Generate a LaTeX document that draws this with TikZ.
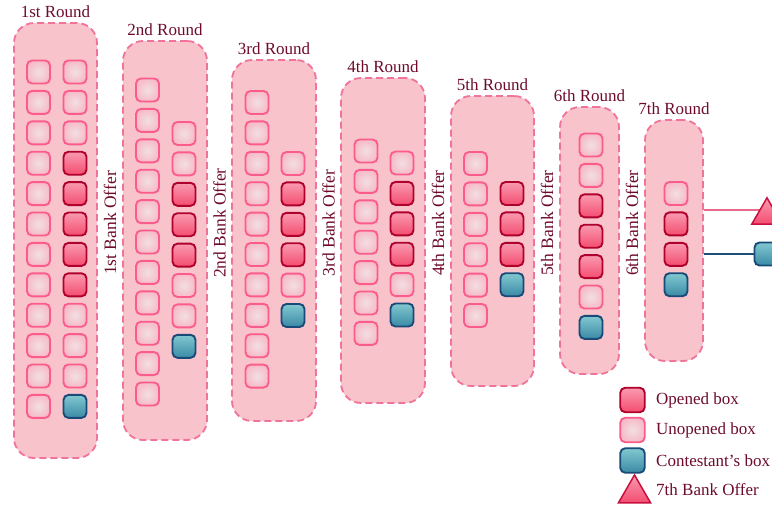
\documentclass[tikz,border=0pt]{standalone}
\usepackage{fontspec}
\setmainfont{Liberation Serif}
\usetikzlibrary{shapes.geometric}
\pgfdeclarelayer{bg}
\pgfsetlayers{bg,main}
\definecolor{panelfill}{HTML}{F8C3CB}
\definecolor{paneldraw}{HTML}{F0739A}
\definecolor{unopdraw}{HTML}{FB5C8C}
\definecolor{unopin}{HTML}{F2DFE3}
\definecolor{unopout}{HTML}{F6BCC8}
\definecolor{opndraw}{HTML}{B0002C}
\definecolor{opntop}{HTML}{F99AB0}
\definecolor{opnbot}{HTML}{F44D70}
\definecolor{contdraw}{HTML}{1A4A78}
\definecolor{conttop}{HTML}{82C8D0}
\definecolor{contbot}{HTML}{3A8AA6}
\definecolor{txt}{HTML}{6E0B2A}
\definecolor{pinkline}{HTML}{E86A88}
\definecolor{blueline}{HTML}{1D4F7A}
\definecolor{tridraw}{HTML}{C8103F}
\begin{document}
\begin{tikzpicture}[x=1pt,y=-1pt,
  panel/.style={draw=paneldraw,fill=panelfill,line width=1.8pt,dash pattern=on 7pt off 4pt,rounded corners=20pt,inner sep=0pt},
  boxbase/.style={rounded corners=5pt,minimum size=23pt,inner sep=0pt,line width=1.9pt},
  unop/.style={boxbase,draw=unopdraw,inner color=unopin,outer color=unopout},
  opn/.style={boxbase,draw=opndraw,top color=opntop,bottom color=opnbot},
  cont/.style={boxbase,draw=contdraw,top color=conttop,bottom color=contbot},
  title/.style={text=txt,font=\fontsize{17pt}{20pt}\selectfont,anchor=base,inner sep=0pt},
  offer/.style={text=txt,font=\fontsize{17.5pt}{20pt}\selectfont,rotate=90,inner sep=0pt},
  legtext/.style={text=txt,font=\fontsize{17pt}{20pt}\selectfont,anchor=west,inner sep=0pt},
  tri/.style={regular polygon,regular polygon sides=3,inner sep=0pt,draw=tridraw,line width=1.5pt,top color=opntop,bottom color=opnbot}
]
\useasboundingbox (0,0) rectangle (772,506);

% panels
\node[panel,minimum width=83pt,minimum height=435pt] (p1) at (55.5,240.5) {};
\node[panel,minimum width=84pt,minimum height=399pt] (p2) at (165,240.5) {};
\node[panel,minimum width=84pt,minimum height=361pt] (p3) at (274,240.5) {};
\node[panel,minimum width=84pt,minimum height=325pt] (p4) at (383,240.5) {};
\node[panel,minimum width=83pt,minimum height=290pt] (p5) at (492.5,241) {};
\node[panel,minimum width=59pt,minimum height=267pt] (p6) at (589.5,240.5) {};
\node[panel,minimum width=58pt,minimum height=241pt] (p7) at (674,240.5) {};

% titles
\node[title] (t1) at ([yshift=5pt]p1.north) {1st Round};
\node[title] (t2) at ([yshift=5pt]p2.north) {2nd Round};
\node[title] (t3) at ([yshift=5pt]p3.north) {3rd Round};
\node[title] (t4) at ([yshift=5pt]p4.north) {4th Round};
\node[title] (t5) at ([yshift=5pt]p5.north) {5th Round};
\node[title] (t6) at ([yshift=5pt]p6.north) {6th Round};
\node[title] (t7) at ([yshift=5pt]p7.north) {7th Round};

% bank offer labels
\node[offer] (b1) at (110,223) {1st Bank Offer};
\node[offer] (b2) at (219.5,223) {2nd Bank Offer};
\node[offer] (b3) at (328.5,223) {3rd Bank Offer};
\node[offer] (b4) at (438,223) {4th Bank Offer};
\node[offer] (b5) at (547,223) {5th Bank Offer};
\node[offer] (b6) at (632,223) {6th Bank Offer};

% round 1
\foreach \s [count=\i from 0] in {unop,unop,unop,unop,unop,unop,unop,unop,unop,unop,unop,unop}
  \node[\s] (r1a\i) at (38.5,{72+30.4*\i}) {};
\foreach \s [count=\i from 0] in {unop,unop,unop,opn,opn,opn,opn,opn,unop,unop,unop,cont}
  \node[\s] (r1b\i) at (75,{72+30.4*\i}) {};
% round 2
\foreach \s [count=\i from 0] in {unop,unop,unop,unop,unop,unop,unop,unop,unop,unop,unop}
  \node[\s] (r2a\i) at (147.5,{90+30.4*\i}) {};
\foreach \s [count=\i from 0] in {unop,unop,opn,opn,opn,unop,unop,cont}
  \node[\s] (r2b\i) at (184,{133.5+30.4*\i}) {};
% round 3
\foreach \s [count=\i from 0] in {unop,unop,unop,unop,unop,unop,unop,unop,unop,unop}
  \node[\s] (r3a\i) at (257,{102.5+30.4*\i}) {};
\foreach \s [count=\i from 0] in {unop,opn,opn,opn,unop,cont}
  \node[\s] (r3b\i) at (293,{163.5+30.4*\i}) {};
% round 4
\foreach \s [count=\i from 0] in {unop,unop,unop,unop,unop,unop,unop}
  \node[\s] (r4a\i) at (366,{151+30.4*\i}) {};
\foreach \s [count=\i from 0] in {unop,opn,opn,opn,unop,cont}
  \node[\s] (r4b\i) at (402,{163+30.4*\i}) {};
% round 5
\foreach \s [count=\i from 0] in {unop,unop,unop,unop,unop,unop}
  \node[\s] (r5a\i) at (475.5,{163.5+30.4*\i}) {};
\foreach \s [count=\i from 0] in {opn,opn,opn,cont}
  \node[\s] (r5b\i) at (512,{193.5+30.4*\i}) {};
% round 6
\foreach \s [count=\i from 0] in {unop,unop,opn,opn,opn,unop,cont}
  \node[\s] (r6a\i) at (591,{145+30.4*\i}) {};
% round 7
\foreach \s [count=\i from 0] in {unop,opn,opn,cont}
  \node[\s] (r7a\i) at (676,{193.5+30.4*\i}) {};

% outcomes on the right
\node[tri,minimum size=35pt] (offer7) at (767,215.3) {};
\node[cont] (final) at (766,254) {};
\coordinate (o7) at (p7.east |- 0,210);
\coordinate (c7) at (p7.east |- final);
\begin{pgfonlayer}{bg}
  \draw[pinkline,line width=1.8pt] (o7) -- (o7 -| offer7.center);
  \draw[blueline,line width=1.8pt] (c7) -- (final.center);
\end{pgfonlayer}

% legend
\node[opn,minimum size=24.5pt] (lo) at (632.5,400) {};
\node[unop,minimum size=24.5pt] (lu) at (632.5,430) {};
\node[cont,minimum size=24.5pt] (lc) at (632.5,460.5) {};
\node[tri,minimum size=37pt] (lt) at (634.5,493.5) {};
\node[legtext] (lot) at (656,400) {Opened box};
\node[legtext] (lut) at (656,430) {Unopened box};
\node[legtext] (lct) at (656,460.5) {Contestant\char39 s box};
\node[legtext] (ltt) at (656,490) {7th Bank Offer};
\end{tikzpicture}
\end{document}
